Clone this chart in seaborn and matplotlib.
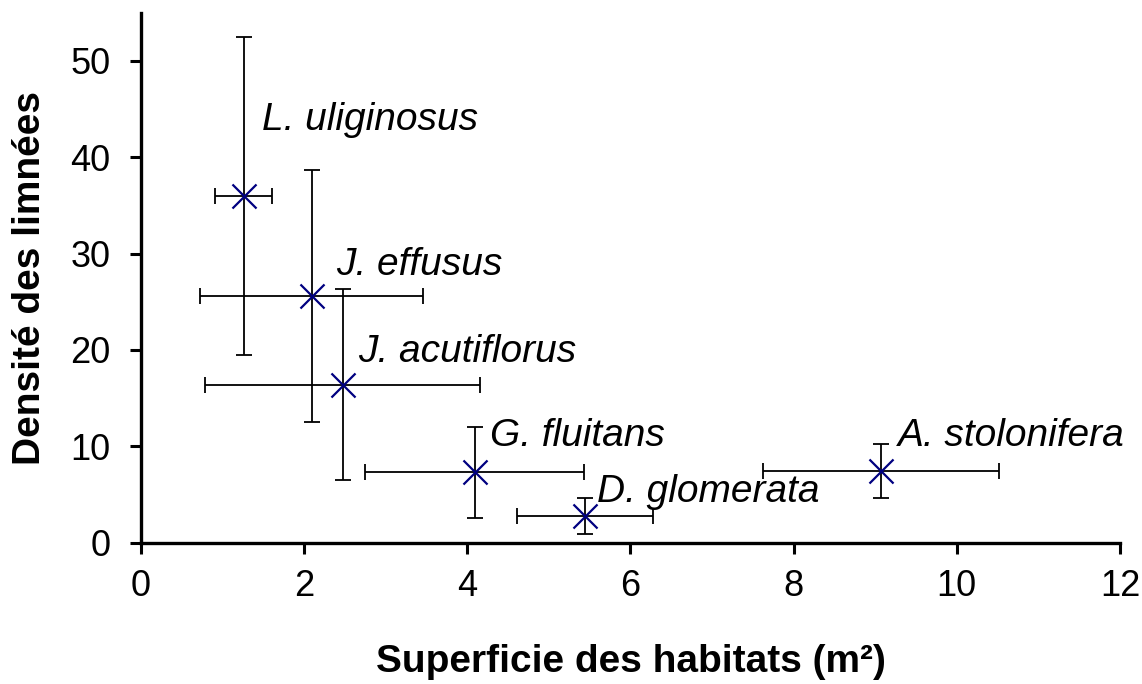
import matplotlib
matplotlib.use("Agg")
import matplotlib.pyplot as plt
import seaborn as sns
import pandas as pd

species = ["L. uliginosus", "J. effusus", "J. acutiflorus", "G. fluitans", "D. glomerata", "A. stolonifera"]
area = [1.26, 2.09, 2.47, 4.09, 5.44, 9.07]
area_err = [0.35, 1.37, 1.68, 1.34, 0.83, 1.45]
density = [36.0, 25.6, 16.4, 7.3, 2.8, 7.4]
density_err = [16.5, 13.1, 9.9, 4.7, 1.85, 2.8]
x_ticks = [0, 2, 4, 6, 8, 10, 12]
y_ticks = [0, 10, 20, 30, 40, 50]

df = pd.DataFrame({"species": species, "area": area, "density": density,
                   "area_err": area_err, "density_err": density_err})

sns.set_style("white")
plt.rcParams["font.family"] = ["Liberation Sans", "DejaVu Sans"]
plt.rcParams["text.color"] = "black"
plt.rcParams["axes.labelcolor"] = "black"
plt.rcParams["xtick.color"] = "black"
plt.rcParams["ytick.color"] = "black"
plt.rcParams["xtick.labelcolor"] = "black"
plt.rcParams["ytick.labelcolor"] = "black"

fig = plt.figure(figsize=(11.42, 6.84), dpi=100)
ax = fig.add_axes([0.1235, 0.2066, 0.8572, 0.7748])

ax.errorbar(df["area"], df["density"], xerr=df["area_err"], yerr=df["density_err"],
            fmt="none", ecolor="black", elinewidth=1.3, capsize=6, capthick=1.3,
            zorder=2, clip_on=False)
sns.scatterplot(data=df, x="area", y="density", ax=ax, marker="x", s=300,
                color="#000080", linewidth=1.6, zorder=3, clip_on=False)

# label offsets in pixels (dx, dy) relative to each point
offsets = [(18, 76), (25, 31), (16, 33), (15, 36), (12, 24), (17, 35)]
for (sp, xv, yv), (dx, dy) in zip(zip(species, area, density), offsets):
    ax.annotate(sp, (xv, yv), xytext=(dx, dy), textcoords="offset pixels",
                ha="left", va="center", fontsize=28, fontstyle="italic", color="black")

ax.set_xlim(0, 12)
ax.set_ylim(0, 55)
ax.set_xticks(x_ticks)
ax.set_yticks(y_ticks)
ax.tick_params(axis="both", which="major", labelsize=26, direction="out",
               length=8, width=2.2, color="black", labelcolor="black",
               left=True, bottom=True)
ax.tick_params(axis="x", pad=11)
ax.tick_params(axis="y", pad=14)

for side in ["top", "right"]:
    ax.spines[side].set_visible(False)
for side in ["left", "bottom"]:
    ax.spines[side].set_linewidth(2.4)
    ax.spines[side].set_color("black")

ax.set_xlabel("Superficie des habitats (m²)", fontsize=28, fontweight="bold", color="black")
ax.set_ylabel("Densité des limnées", fontsize=28, fontweight="bold", color="black")
ax.xaxis.set_label_coords(0.5, -0.225)
ax.yaxis.label.set_va("center")
ax.xaxis.label.set_va("center")
ax.yaxis.set_label_coords(-0.113, 0.5)

fig.savefig("out.png", dpi=100)
